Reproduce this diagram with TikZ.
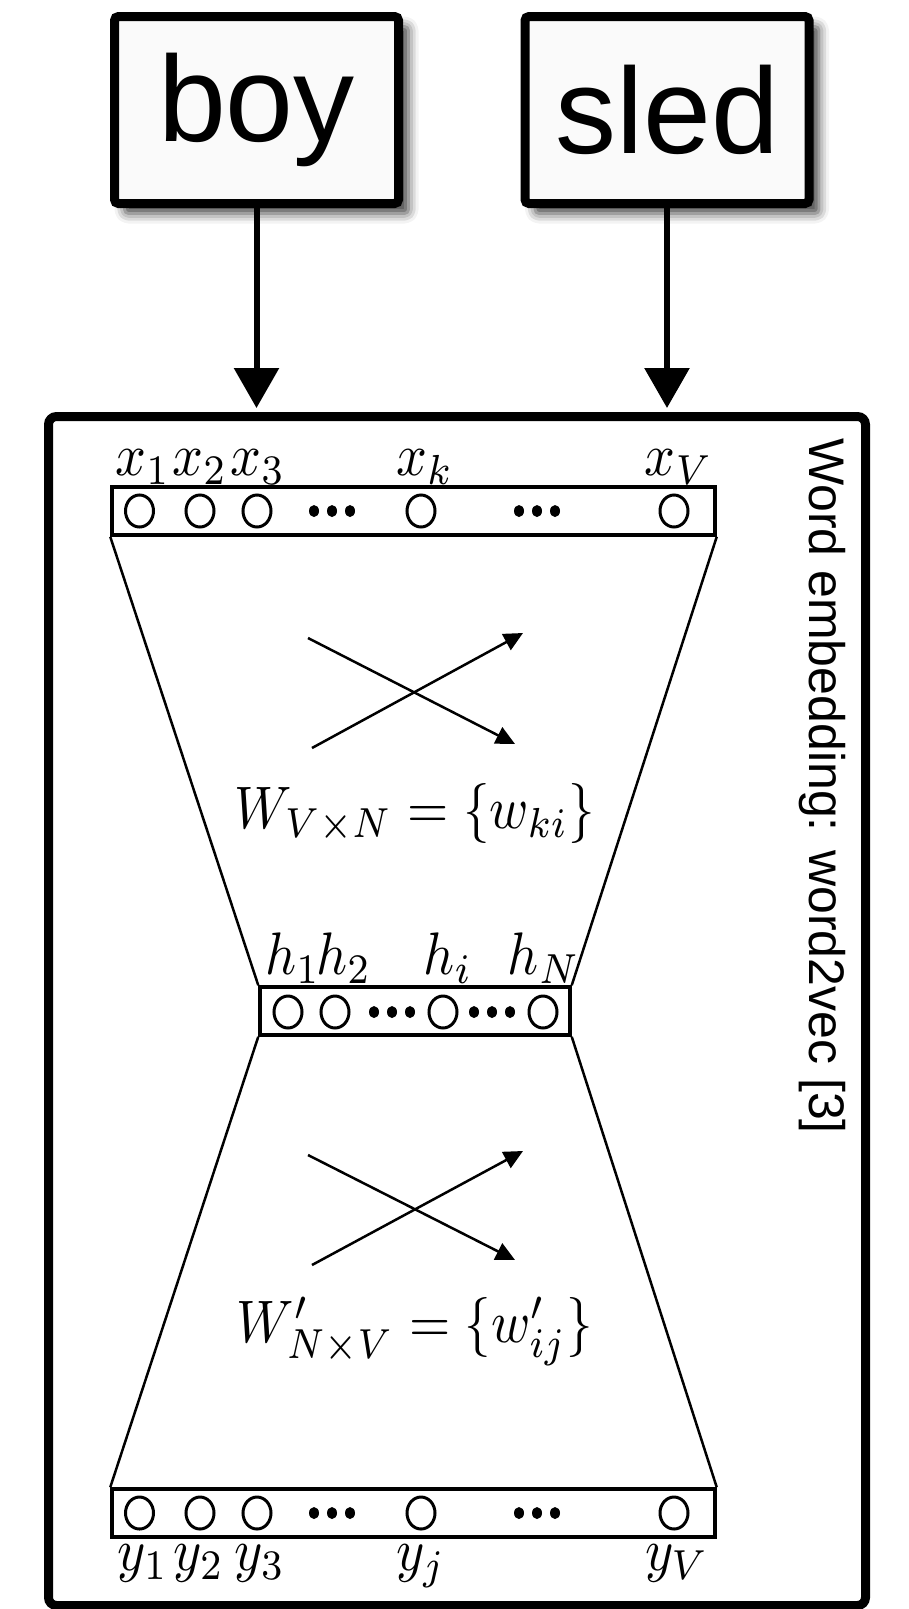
\documentclass[tikz,border=0pt]{standalone}
\usepackage{fontspec}
\newfontfamily\helv{Liberation Sans}
\usetikzlibrary{arrows.meta,shapes.geometric,shadows.blur}

\begin{document}
\begin{tikzpicture}[x=1pt,y=-1pt,
  word/.style={draw,line width=9pt,rounded corners=4pt,fill=gray!4,minimum width=284pt,minimum height=187pt,inner sep=0pt,font=\helv\fontsize{122}{130}\selectfont,blur shadow={shadow xshift=10pt,shadow yshift=-10pt,shadow blur radius=10pt,shadow opacity=75}},
  layer/.style={draw,line width=3.5pt,inner sep=0pt,minimum height=48pt},
  unit/.style={draw,ellipse,line width=3pt,minimum width=28pt,minimum height=32pt,inner sep=0pt},
  lab/.style={anchor=base,xscale=5.4,yscale=6,inner sep=0pt},
  wlab/.style={anchor=base,xscale=5.3,yscale=6,inner sep=0pt},
  feed/.style={-{Triangle[width=44pt,length=40pt]},line width=6pt},
  wire/.style={line width=2.5pt},
  cross/.style={-{Triangle[width=18pt,length=19pt]},line width=2.5pt}]
\useasboundingbox (0,0) rectangle (909,1609);
\node[word] (boy) at (256.5,110) {boy};
\node[word] (sled) at (667,110) {sled};
\node[draw,line width=9pt,rounded corners=8pt,minimum width=817pt,minimum height=1189pt,inner sep=0pt] (embed) at (457,1011) {};
\coordinate (boyin) at (256.5,408);
\coordinate (sledin) at (667,408);
\draw[feed] (boy) -- (boyin);
\draw[feed] (sled) -- (sledin);
\node[rotate=-90,anchor=base,inner sep=0pt,font=\helv\fontsize{50}{60}\selectfont] (title) at (809,786) {Word embedding: word2vec [3]};
\node[layer,minimum width=603pt] (xlay) at (413.5,511) {};
\node[layer,minimum width=310pt] (hlay) at (415,1011) {};
\node[layer,minimum width=603pt] (ylay) at (413.5,1513) {};
\draw[wire] (xlay.south west) -- (hlay.north west);
\draw[wire] (xlay.south east) -- (hlay.north east);
\draw[wire] (hlay.south west) -- (ylay.north west);
\draw[wire] (hlay.south east) -- (ylay.north east);
\foreach \n/\x in {1/139.5,2/200,3/257,k/421,V/674} {
  \node[unit] (x\n) at (\x,511) {};
  \node[unit] (y\n) at (\x,1513) {};
}
\foreach \n/\x in {1/288,2/335,i/443,N/543}
  \node[unit] (h\n) at (\x,1012) {};
\foreach \d in {314,332,350,519,537,555} {
  \fill (\d,511) ellipse [x radius=5pt,y radius=6pt];
  \fill (\d,1513) ellipse [x radius=5pt,y radius=6pt];
}
\foreach \d in {374,392,410,474,492,510}
  \fill (\d,1012) ellipse [x radius=5pt,y radius=6pt];
\foreach \n/\x in {1/143,2/200,3/258,k/425,V/679}
  \node[lab] (lx\n) at (\x,475) {$x_\n$};
\foreach \n/\x in {1/293,2/344,i/448,N/544}
  \node[lab] (lh\n) at (\x,974) {$h_\n$};
\foreach \n/\x in {1/143,2/199,3/260,j/421,V/677}
  \node[lab] (ly\n) at (\x,1570) {$y_\n$};
\coordinate (ua) at (308,638);
\coordinate (ub) at (515,744);
\coordinate (uc) at (312,748);
\coordinate (ud) at (523,633);
\draw[cross] (ua) -- (ub);
\draw[cross] (uc) -- (ud);
\coordinate (la) at (308,1155);
\coordinate (lb) at (515,1260);
\coordinate (lc) at (312,1265);
\coordinate (ld) at (523,1151);
\draw[cross] (la) -- (lb);
\draw[cross] (lc) -- (ld);
\node[wlab] (wvn) at (415,828) {$W_{V\times N}=\{w_{ki}\}$};
\node[wlab] (wnv) at (415,1342) {$W'_{N\times V}=\{w'_{ij}\}$};
\end{tikzpicture}
\end{document}
